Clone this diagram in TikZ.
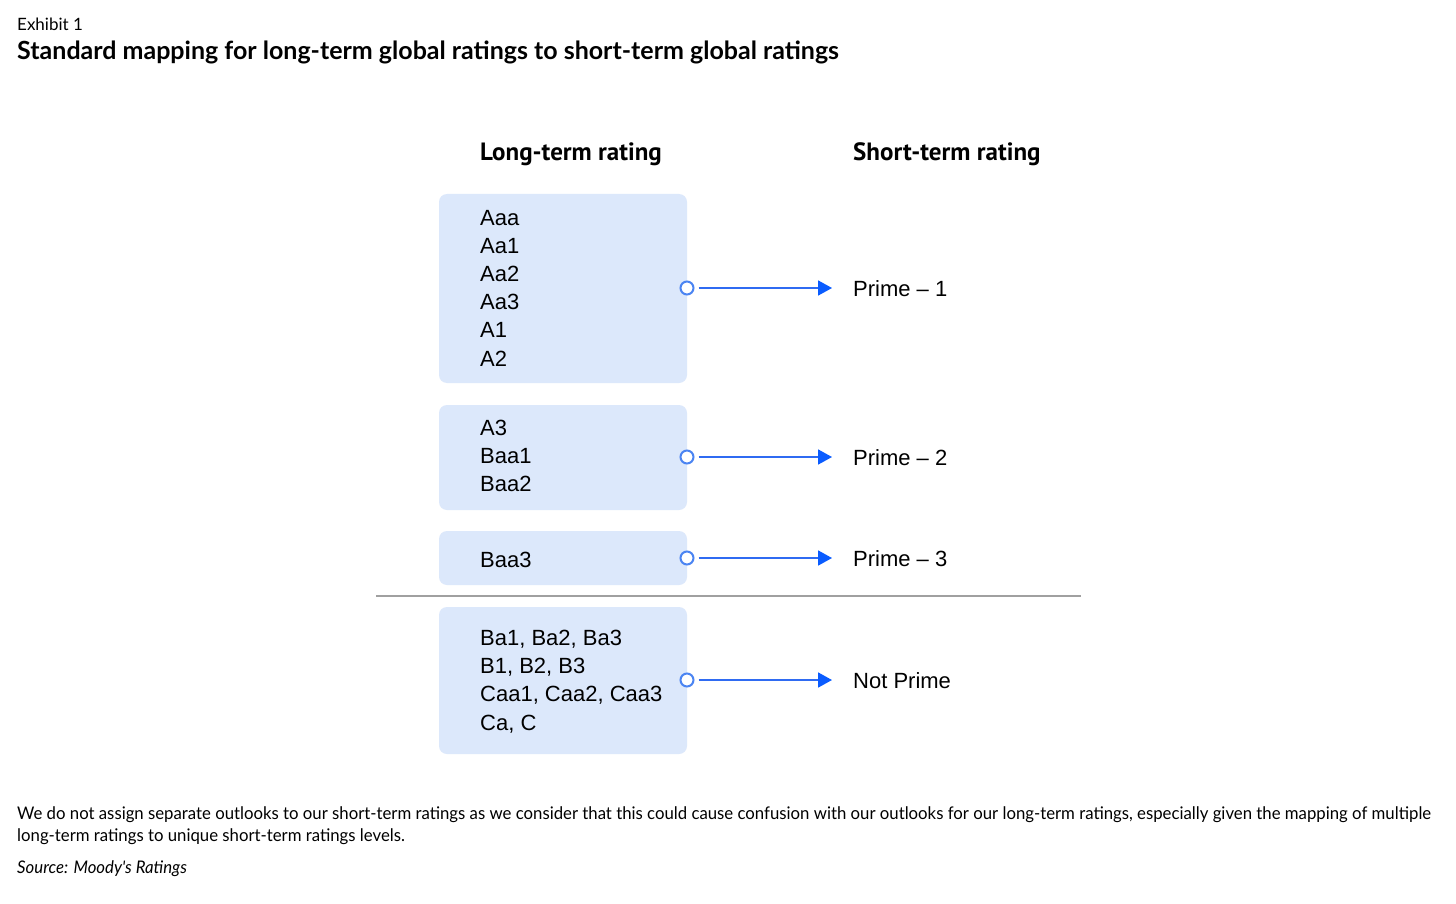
\documentclass[tikz,border=0pt]{standalone}
\usepackage{fontspec}
\setmainfont{Liberation Sans}
\newfontfamily\titlefont{Lato}
\newfontfamily\notefont[FakeStretch=0.963]{Lato}
\newfontfamily\headfont{PT Sans}
\usetikzlibrary{arrows.meta}
\definecolor{boxfill}{HTML}{DCE8FB}
\definecolor{linkblue}{HTML}{2F6BF2}
\definecolor{tipblue}{HTML}{0A5CFF}
\definecolor{ringblue}{HTML}{4A84F2}
\definecolor{rulegray}{HTML}{A0A0A0}
\tikzset{
  ratebox/.style={fill=boxfill, draw=none, rounded corners=8pt, minimum width=248pt, inner sep=0pt},
  ratetext/.style={anchor=west, align=left, inner sep=0pt, font=\fontsize{22}{28.2}\selectfont},
  ring/.style={circle, draw=ringblue, line width=2pt, fill=white, minimum size=13pt, inner sep=0pt},
  link/.style={draw=linkblue, line width=1.8pt, -{Triangle[length=14pt,width=15pt,color=tipblue]}},
  target/.style={anchor=west, inner sep=0pt, font=\fontsize{22}{26}\selectfont},
  colhead/.style={anchor=west, inner sep=0pt, font=\headfont\bfseries\fontsize{25}{30}\selectfont},
}
\begin{document}
\begin{tikzpicture}[x=1pt,y=-1pt]
\useasboundingbox (0,0) rectangle (1456,904);
\fill[white] (0,0) rectangle (1456,904);
% title
\node[anchor=west, inner sep=0pt, font=\titlefont\fontsize{17}{20}\selectfont] (exh) at (17,24) {Exhibit 1};
\node[anchor=west, inner sep=0pt, font=\titlefont\bfseries\fontsize{25}{30}\selectfont] (title) at (17,52) {Standard mapping for long-term global ratings to short-term global ratings};
% column heads
\node[colhead] (lh) at (480,154) {Long-term rating};
\node[colhead] (sh) at (853,154) {Short-term rating};
% boxes
\node[ratebox, minimum height=189pt] (b1) at (563,288.5) {};
\node[ratebox, minimum height=105pt] (b2) at (563,457.5) {};
\node[ratebox, minimum height=54pt] (b3) at (563,558) {};
\node[ratebox, minimum height=147pt] (b4) at (563,680.5) {};
\node[ratetext] (t1) at (480,288) {Aaa\\Aa1\\Aa2\\Aa3\\A1\\A2};
\node[ratetext] (t2) at (480,456) {A3\\Baa1\\Baa2};
\node[ratetext] (t3) at (480,560) {Baa3};
\node[ratetext] (t4) at (480,681.5) {Ba1, Ba2, Ba3\\B1, B2, B3\\Caa1, Caa2, Caa3\\Ca, C};
% separator
\coordinate (sepl) at (376,596);
\coordinate (sepr) at (1081,596);
\draw[rulegray, line width=1.2pt] (sepl) -- (sepr);
% targets
\node[target] (p1) at (853,288.5) {Prime -- 1};
\node[target] (p2) at (853,457.5) {Prime -- 2};
\node[target] (p3) at (853,558.5) {Prime -- 3};
\node[target] (p4) at (853,680.5) {Not Prime};
% rings and links
\foreach \i/\y in {1/288,2/457,3/558,4/680}{
  \node[ring] (r\i) at (687,\y) {};
  \coordinate (e\i) at (832,\y);
  \draw[link] (r\i.east) ++(4pt,0) -- (e\i);
}
% footer
\node[anchor=west, inner sep=0pt, align=left, font=\notefont\fontsize{17.4}{22}\selectfont] (note) at (17,826) {We do not assign separate outlooks to our short-term ratings as we consider that this could cause confusion with our outlooks for our long-term ratings, especially given the mapping of multiple\\long-term ratings to unique short-term ratings levels.};
\node[anchor=west, inner sep=0pt, font=\notefont\itshape\fontsize{17.4}{22}\selectfont] (src) at (17,869) {Source: Moody's Ratings};
\end{tikzpicture}
\end{document}
